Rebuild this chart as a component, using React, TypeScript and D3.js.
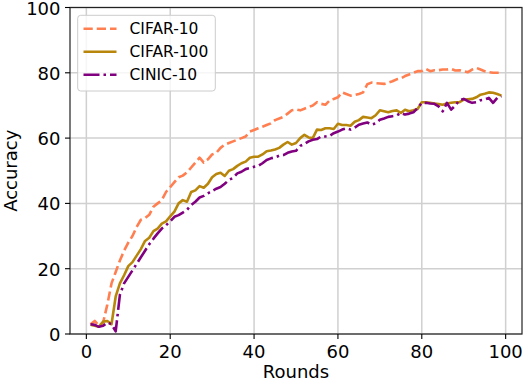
import React from "react";
import * as d3 from "d3";

const cifar10: number[] = [
  3.0, 4.0, 2.5, 3.5, 9, 15.5, 19, 22.5, 25.5, 28,
  30, 32.8, 35, 35.5, 36.5, 39, 40, 41, 43.5, 45,
  46.5, 48, 48.5, 49.5, 51, 52.5, 54, 52.5, 53.5, 55,
  55.5, 57, 58, 58.5, 59, 59.5, 60, 60.5, 62, 62.5,
  63, 63.5, 64, 64.5, 65.5, 66, 66.5, 67.5, 68.5, 68.8,
  68.5, 69, 69.5, 70, 71, 70.5, 70.2, 71.5, 72, 72.5,
  74, 73.5, 73, 73.2, 73.5, 74, 76.5, 77, 76.8, 76.7,
  76.6, 77, 77.4, 78, 78.3, 79, 79.5, 80, 80.5, 80.5,
  81.2, 80.5, 80.8, 80.8, 81, 81, 81.2, 80.7, 80.8, 80.5,
  80.2, 81, 81.5, 81, 80.5, 80.2, 80, 80, 80,
];

const cifar100: number[] = [
  2.8, 2.5, 2.2, 3.8, 4.0, 3.0, 11.5, 15.5, 18, 20.8,
  22, 24, 26, 28.5, 29.5, 31.5, 32.3, 33.8, 34.5, 36,
  37.5, 40, 41, 40.5, 43.5, 44, 45.3, 44.8, 46, 48,
  49, 49.4, 48.4, 50, 50.5, 51.5, 52.3, 52.8, 54, 54.3,
  54.3, 55, 56, 56.2, 56.5, 57, 58, 58.8, 58, 58.5,
  60, 61, 60.2, 60, 62.6, 62.5, 63, 63, 62.8, 64.4,
  64, 64, 63.8, 65, 65.5, 66.5, 66.3, 66.1, 67, 68.5,
  68.2, 67.9, 68.3, 68.5, 67.7, 68.7, 68.2, 68.5, 68.9, 71,
  71, 70.8, 70.6, 70.4, 70.2, 70.6, 70.8, 71, 71, 71.8,
  71.9, 72, 72.5, 73.3, 73.6, 74, 73.9, 73.5, 73,
];

const cinic10: number[] = [
  3.0, 2.8, 2.2, 2.5, 3.5, 3.0, 0.8, 12, 15.5, 17.5,
  19.5, 21.5, 23.5, 25.5, 27.5, 29.2, 30.8, 32.3, 33.3, 34.5,
  35.9, 36.4, 37.2, 38, 39.5, 40.5, 41.8, 42.3, 43.1, 43.8,
  44.5, 45, 46, 47.2, 47.8, 49.2, 49.7, 50.5, 50.8, 51.2,
  51.5, 52.3, 53.3, 53.8, 54.1, 54.6, 54.8, 55.5, 55.9, 56.1,
  57.6, 58.2, 59, 59.5, 59.7, 60.5, 60.5, 60.7, 61.5, 62,
  62.6, 63, 62.6, 63.2, 64.1, 64.5, 64.8, 64.1, 64.5, 65.6,
  66, 66.5, 66.7, 66.9, 67.7, 67.2, 67.5, 67.9, 69.2, 70.8,
  70.8, 70.6, 70.5, 69.7, 68.2, 70.8, 68.7, 70, 71.6, 72,
  71.3, 70.8, 71, 71.6, 71.8, 72.3, 70.8, 72.3, 72.8,
];

const seriesNames = ["CIFAR-10", "CIFAR-100", "CINIC-10"];
const seriesColors = ["#FF7F50", "#B8860B", "#800080"];
const seriesDash = ["9.25,4", "none", "16,4,2.5,4"];
const xTicks = [0, 20, 40, 60, 80, 100];
const yTicks = [0, 20, 40, 60, 80, 100];
const xLabel = "Rounds";
const yLabel = "Accuracy";

const W = 524;
const H = 384;
const L = 70, R = 522, T = 7.5, B = 334;
const FONT = "DejaVu Sans, sans-serif";

export default function App() {
  const allSeries = [cifar10, cifar100, cinic10];
  const x = d3.scaleLinear().domain([-3.9, 103.9]).range([L, R]);
  const y = d3.scaleLinear().domain([0, 100]).range([B, T]);
  const line = d3
    .line<number>()
    .x((_, i) => x(i + 1))
    .y((d) => y(d));

  return (
    <svg
      width={W}
      height={H}
      style={{ position: "absolute", left: 0, top: 0, background: "#fff" }}
      fontFamily={FONT}
    >
      <rect x={0} y={0} width={W} height={H} fill="#fff" />
      <defs>
        <clipPath id="clip">
          <rect x={L} y={T} width={R - L} height={B - T} />
        </clipPath>
      </defs>
      {/* grid */}
      {xTicks.map((t) => (
        <line key={"gx" + t} x1={x(t)} x2={x(t)} y1={T} y2={B} stroke="#d0d0d0" strokeWidth={1.5} />
      ))}
      {yTicks.map((t) => (
        <line key={"gy" + t} x1={L} x2={R} y1={y(t)} y2={y(t)} stroke="#d0d0d0" strokeWidth={1.5} />
      ))}
      {/* lines */}
      <g clipPath="url(#clip)">
        {allSeries.map((s, i) => (
          <path
            key={seriesNames[i]}
            d={line(s) || ""}
            fill="none"
            stroke={seriesColors[i]}
            strokeWidth={2.6}
            strokeDasharray={seriesDash[i]}
            strokeLinejoin="round"
          />
        ))}
      </g>
      {/* spines */}
      <rect x={L} y={T} width={R - L} height={B - T} fill="none" stroke="#222" strokeWidth={1.2} />
      {/* ticks */}
      {xTicks.map((t) => (
        <g key={"tx" + t}>
          <line x1={x(t)} x2={x(t)} y1={B} y2={B + 5} stroke="#000" strokeWidth={1.1} />
          <text x={x(t)} y={358} textAnchor="middle" fontSize={18} fill="#000">
            {t}
          </text>
        </g>
      ))}
      {yTicks.map((t) => (
        <g key={"ty" + t}>
          <line x1={L - 5} x2={L} y1={y(t)} y2={y(t)} stroke="#000" strokeWidth={1.1} />
          <text x={60.5} y={y(t) + 7} textAnchor="end" fontSize={18} fill="#000">
            {t}
          </text>
        </g>
      ))}
      <text x={(L + R) / 2} y={378} textAnchor="middle" fontSize={18} fill="#000">
        {xLabel}
      </text>
      <text
        transform={`translate(17,${(T + B) / 2}) rotate(-90)`}
        textAnchor="middle"
        fontSize={18}
        fill="#000"
      >
        {yLabel}
      </text>
      {/* legend */}
      <rect x={77.7} y={15.3} width={137.6} height={75.7} rx={3} ry={3} fill="#fff" fillOpacity={0.8} stroke="#cccccc" strokeWidth={1} />
      {seriesNames.map((n, i) => {
        const cy = 28.7 + i * 23;
        return (
          <g key={"lg" + n}>
            <line x1={83.5} x2={116.5} y1={cy} y2={cy} stroke={seriesColors[i]} strokeWidth={2.6} strokeDasharray={seriesDash[i]} />
            <text x={129.5} y={cy + 5.6} fontSize={15.5} fill="#000">
              {n}
            </text>
          </g>
        );
      })}
    </svg>
  );
}
